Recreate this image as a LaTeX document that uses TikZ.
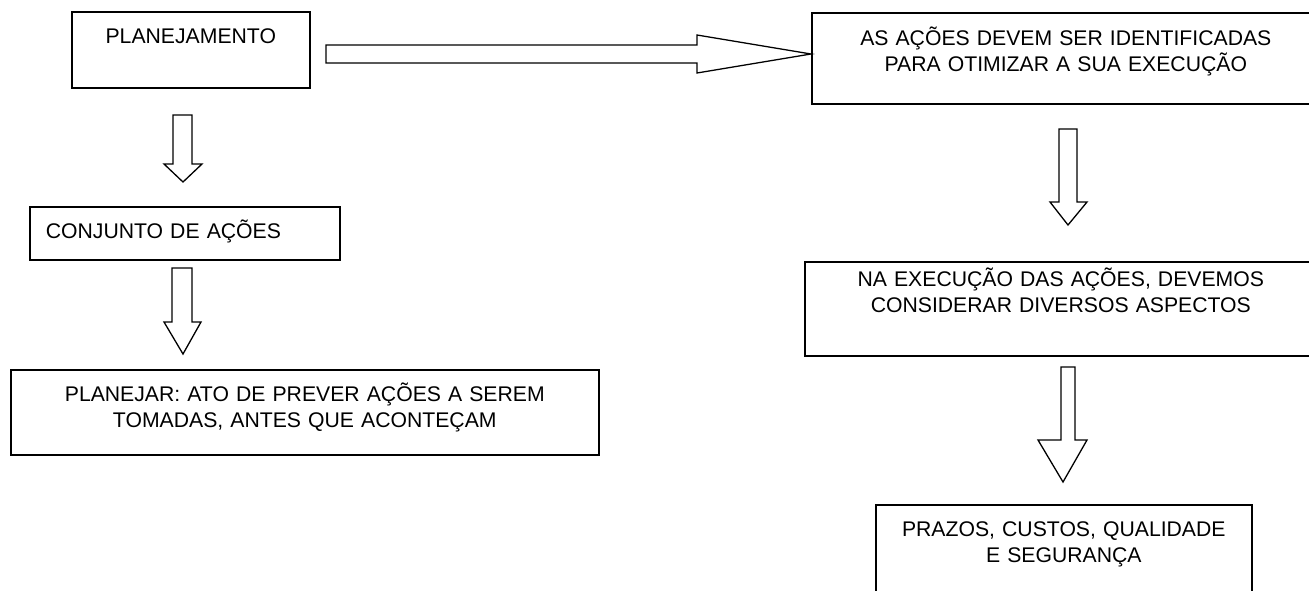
\documentclass[tikz,border=0pt]{standalone}
\usepackage{fontspec}
\setmainfont{Liberation Sans}
\begin{document}
\begin{tikzpicture}[x=1pt,y=-1pt,
  box/.style={draw, line width=1.6pt, inner xsep=0pt, inner ysep=0pt,
    align=center, anchor=north west, font=\fontsize{21.2}{26}\selectfont},
  blockarrow/.style={draw, line width=1.3pt, fill=white, line join=miter}]
\useasboundingbox (0,0) rectangle (1309,590);
\clip (0,0) rectangle (1309,590);

% left column
\node[box, text width=238pt, text height=31.3pt, text depth=44.7pt] (plan) at (71,11) {PLANEJAMENTO};
\node[box, align=left, inner xsep=16pt, text width=278pt, text height=31.7pt, text depth=21.3pt] (conj) at (29,206) {CONJUNTO DE AÇÕES};
\node[box, text width=588pt, text height=31.7pt, text depth=53.3pt] (prever) at (10,369)
  {PLANEJAR: ATO DE PREVER AÇÕES A SEREM\\TOMADAS, ANTES QUE ACONTEÇAM};

% right column
\node[box, text width=508pt, text height=33pt, text depth=58pt] (ident) at (811,12)
  {AS AÇÕES DEVEM SER IDENTIFICADAS\\PARA OTIMIZAR A SUA EXECUÇÃO};
\node[box, text width=512pt, text height=25pt, text depth=69pt] (exec) at (804,261)
  {NA EXECUÇÃO DAS AÇÕES, DEVEMOS\\CONSIDERAR DIVERSOS ASPECTOS};
\node[box, text width=376pt, text height=31.5pt, text depth=80pt] (prazos) at (875,504)
  {PRAZOS, CUSTOS, QUALIDADE\\E SEGURANÇA};

% block arrows
\draw[blockarrow] (326,45) -- (697,45) -- (697,35) -- (ident.west |- 0,54) -- (697,73) -- (697,63) -- (326,63) -- cycle;
\draw[blockarrow] (173,115) -- (192,115) -- (192,164) -- (202,164) -- (183,182) -- (164,164) -- (173,164) -- cycle;
\draw[blockarrow] (172,268) -- (192,268) -- (192,322) -- (201,322) -- (183,354) -- (164,322) -- (172,322) -- cycle;
\draw[blockarrow] (1059,129) -- (1077,129) -- (1077,202) -- (1087,202) -- (1068,225) -- (1050,202) -- (1059,202) -- cycle;
\draw[blockarrow] (1061,367) -- (1075,367) -- (1075,440) -- (1087,440) -- (1063,482) -- (1038,440) -- (1061,440) -- cycle;
\end{tikzpicture}
\end{document}
